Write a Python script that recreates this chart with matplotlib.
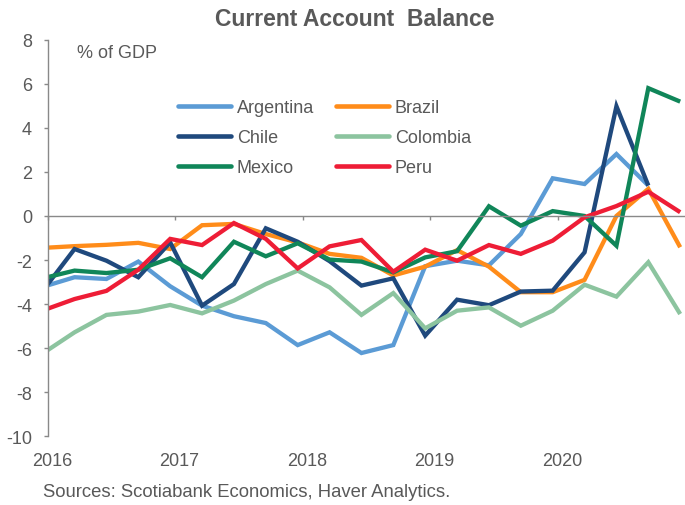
import numpy as np
import matplotlib
matplotlib.use("Agg")
import matplotlib.pyplot as plt
from matplotlib.transforms import ScaledTranslation

plt.rcParams["font.family"] = ["Liberation Sans", "DejaVu Sans"]
plt.rcParams["axes.unicode_minus"] = False

# Quarterly current account balance, % of GDP (2015Q4 - 2020Q4)
quarters = ["2015Q4",
            "2016Q1", "2016Q2", "2016Q3", "2016Q4",
            "2017Q1", "2017Q2", "2017Q3", "2017Q4",
            "2018Q1", "2018Q2", "2018Q3", "2018Q4",
            "2019Q1", "2019Q2", "2019Q3", "2019Q4",
            "2020Q1", "2020Q2", "2020Q3", "2020Q4"]

argentina = [-3.22, -2.78, -2.86, -2.07, -3.19, -4.07, -4.55, -4.86, -5.86, -5.28,
             -6.22, -5.86, -2.28, -2.03, -2.24, -0.82, 1.71, 1.45, 2.81, 1.38, np.nan]
brazil = [-1.45, -1.37, -1.31, -1.22, -1.50, -0.42, -0.36, -0.82, -1.20, -1.72,
          -1.90, -2.70, -2.30, -1.55, -2.30, -3.46, -3.46, -2.90, 0.00, 1.23, -1.42]
chile = [-3.40, -1.50, -2.03, -2.78, -1.20, -4.07, -3.09, -0.56, -1.17, -2.05,
         -3.16, -2.83, -5.43, -3.80, -4.05, -3.43, -3.39, -1.65, 4.98, 1.38, np.nan]
colombia = [-6.24, -5.28, -4.49, -4.34, -4.04, -4.42, -3.84, -3.09, -2.48, -3.24,
            -4.49, -3.50, -5.10, -4.30, -4.15, -4.98, -4.30, -3.12, -3.66, -2.10, -4.45]
mexico = [-2.83, -2.48, -2.59, -2.44, -1.92, -2.78, -1.17, -1.83, -1.24, -1.98,
          -2.07, -2.56, -1.88, -1.60, 0.44, -0.44, 0.22, 0.00, -1.35, 5.80, 5.19]
peru = [-4.29, -3.77, -3.40, -2.44, -1.04, -1.32, -0.32, -1.04, -2.38, -1.38,
        -1.09, -2.53, -1.53, -2.03, -1.32, -1.72, -1.12, -0.06, 0.45, 1.10, 0.17]

series = [("Argentina", argentina, "#5B9BD5"),
          ("Brazil", brazil, "#FF8C1A"),
          ("Chile", chile, "#1F497D"),
          ("Colombia", colombia, "#8CC49F"),
          ("Mexico", mexico, "#108659"),
          ("Peru", peru, "#EE1D36")]

years = [2016, 2017, 2018, 2019, 2020]
yticks = list(range(-10, 9, 2))

# each observation sits at mid-month of the quarter's last month
def quarter_pos(q):
    yr, qq = int(q[:4]), int(q[5])
    return yr + qq / 4 - 1 / 24

x = np.array([quarter_pos(q) for q in quarters])

W, H = 685, 506
fig = plt.figure(figsize=(W / 100, H / 100), dpi=100)
ax = fig.add_axes([48 / W, 1 - 437.3 / H, 637.5 / W, (437.3 - 40.7) / H])

text_col = "#595959"
axis_col = "#898989"

lines = {}
for name, vals, col in series:
    ln, = ax.plot(x, vals, color=col, lw=3.1, label=name,
                  solid_capstyle="butt", solid_joinstyle="miter")
    lines[name] = ln

ax.set_xlim(2016, 2021)
ax.set_ylim(-10, 8)

for s in ("top", "right"):
    ax.spines[s].set_visible(False)
ax.spines["left"].set_color(axis_col)
ax.spines["left"].set_linewidth(1.0)
ax.spines["bottom"].set_position(("data", 0))
ax.spines["bottom"].set_color(axis_col)
ax.spines["bottom"].set_linewidth(1.0)

ax.set_yticks(yticks)
ax.set_yticklabels([str(v) for v in yticks])
ax.tick_params(axis="y", direction="out", length=3, width=1, color=axis_col,
               labelsize=13, labelcolor=text_col, pad=8.5)

ax.set_xticks(years)
ax.tick_params(axis="x", direction="out", length=3, width=1, color=axis_col,
               labelbottom=False)

sec = ax.secondary_xaxis("bottom")
sec.set_xticks(years)
sec.set_xticklabels([str(y) for y in years])
sec.tick_params(length=0, labelsize=13, labelcolor=text_col, pad=11.5)
sec.spines["bottom"].set_visible(False)
shift = ScaledTranslation(4 / 100, 0, fig.dpi_scale_trans)
for lab in sec.get_xticklabels():
    lab.set_transform(lab.get_transform() + shift)

order = ["Argentina", "Chile", "Mexico", "Brazil", "Colombia", "Peru"]
leg = ax.legend([lines[n] for n in order], order, ncol=2, frameon=False,
                loc="upper left", bbox_to_anchor=(178 / W, 1 - 100 / H),
                bbox_transform=fig.transFigure, borderpad=0, borderaxespad=0,
                fontsize=13, handlelength=2.93, handletextpad=0.33,
                labelspacing=0.72, columnspacing=1.2)
for t in leg.get_texts():
    t.set_color(text_col)
for h in leg.legend_handles:
    h.set_solid_capstyle("round")
    h.set_linewidth(3.3)

fig.text(355 / W, 1 - 19 / H, "Current Account  Balance", ha="center", va="center",
         fontsize=16.5, fontweight="bold", color=text_col)
fig.text(76.7 / W, 1 - 53.3 / H, "% of GDP", ha="left", va="center",
         fontsize=13, color=text_col)
fig.text(43 / W, 1 - 493 / H, "Sources: Scotiabank Economics, Haver Analytics.",
         ha="left", va="center", fontsize=13.3, color=text_col)

fig.savefig("out.png", dpi=100)
